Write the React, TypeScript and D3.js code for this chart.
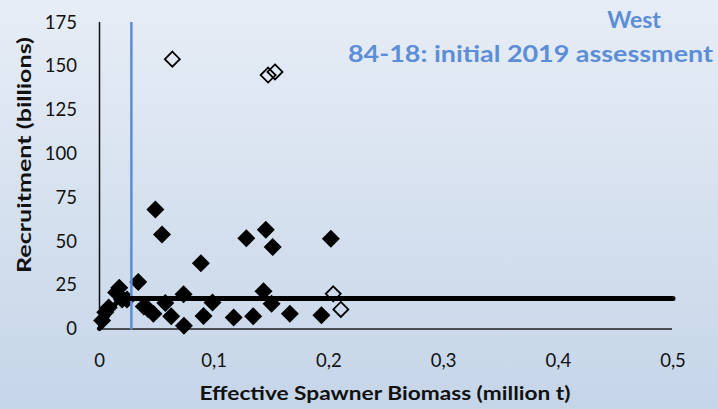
import React from 'react';
import * as d3 from 'd3';

// spawner biomass (million t) and recruitment (billions)
const ssbFilled = [
  0.0487, 0.0545, 0.128, 0.145, 0.151, 0.2017, 0.0884, 0.0338, 0.0172, 0.143,
  0.0733, 0.0574, 0.0985, 0.150, 0.0386, 0.047, 0.0625, 0.0907, 0.117, 0.134,
  0.166, 0.1935, 0.0736, 0.0197, 0.024, 0.008, 0.005, 0.0023, 0.0145, 0.0425,
];
const recFilled = [
  67.9, 53.7, 51.6, 56.4, 46.5, 51.3, 37.2, 26.6, 23.2, 21.2,
  19.5, 14.5, 14.8, 14.1, 12.6, 8.4, 7.0, 7.2, 6.3, 7.0,
  8.4, 7.5, 1.5, 16.5, 16.5, 12, 9.3, 4.6, 20.5, 11,
];
const ssbOpen = [0.0635, 0.147, 0.153, 0.2038, 0.2104];
const recOpen = [153.8, 144.7, 146.5, 19.8, 10.9];

// hockey-stick stock-recruit relationship
const hsSsb = [0, 0.017, 0.5];
const hsRec = [0, 17.2, 17.2];
const blueLineSsb = 0.0278;

const xTicks = [0, 0.1, 0.2, 0.3, 0.4, 0.5];
const xTickLabels = ['0', '0,1', '0,2', '0,3', '0,4', '0,5'];
const yTicks = [0, 25, 50, 75, 100, 125, 150, 175];

const titleLine1 = 'West';
const titleLine2 = '84-18: initial 2019 assessment';
const xTitle = 'Effective Spawner Biomass (million t)';
const yTitle = 'Recruitment (billions)';

const W = 718;
const H = 409;
const FONT = 'Lato, "Open Sans", sans-serif';
const BLUE = '#5b8ed6';

function diamond(cx: number, cy: number, r: number) {
  return `M${cx},${cy - r}L${cx + r},${cy}L${cx},${cy + r}L${cx - r},${cy}Z`;
}

export default function App() {
  const x = d3.scaleLinear().domain([0, 0.5]).range([99.5, 673]);
  const y = d3.scaleLinear().domain([0, 175]).range([328.5, 22]);

  const hsLine = d3.line<number>()
    .x((d) => x(hsSsb[d]))
    .y((d) => y(hsRec[d]));

  return (
    <svg width={W} height={H} style={{ position: 'fixed', left: 0, top: 0 }} fontFamily={FONT}>
      <defs>
        <linearGradient id="bg" x1="0" y1="0" x2="0" y2="1">
          <stop offset="0%" stopColor="#e7edf6" />
          <stop offset="100%" stopColor="#c5d5e8" />
        </linearGradient>
      </defs>
      <rect x={0} y={0} width={W} height={H} fill="url(#bg)" />

      {/* axes */}
      <line x1={x(0)} x2={x(0)} y1={y(175)} y2={y(0) + 1} stroke="#111" strokeWidth={1.5} />
      <line x1={x(0)} x2={672} y1={y(0) + 0.5} y2={y(0) + 0.5} stroke="#222" strokeWidth={1.5} />

      {yTicks.map((t) => (
        <text key={t} x={77} y={y(t)} dy="0.36em" textAnchor="end" fontSize={18.5} fill="#111">
          {t}
        </text>
      ))}
      {xTicks.map((t, i) => (
        <text key={t} x={x(t)} y={367} textAnchor="middle" fontSize={18.5} fill="#111">
          {xTickLabels[i]}
        </text>
      ))}

      {/* points */}
      {ssbFilled.map((s, i) => (
        <path key={'f' + i} d={diamond(x(s), y(recFilled[i]), 9)} fill="#000" />
      ))}
      {ssbOpen.map((s, i) => (
        <path key={'o' + i} d={diamond(x(s), y(recOpen[i]), 7.5)} fill="none" stroke="#000" strokeWidth={1.8} />
      ))}

      <line x1={x(blueLineSsb)} x2={x(blueLineSsb)} y1={y(175)} y2={y(0) + 1} stroke={BLUE} strokeWidth={2.5} />
      <path d={hsLine([0, 1, 2]) ?? ''} fill="none" stroke="#000" strokeWidth={5} strokeLinecap="round" />

      {/* titles */}
      <text x={634} y={28} textAnchor="middle" fontSize={23} fontWeight="bold" fill={BLUE}>
        {titleLine1}
      </text>
      <text x={713} y={62} textAnchor="end" fontSize={23} fontWeight="bold" fill={BLUE}
        textLength={365} lengthAdjust="spacingAndGlyphs">
        {titleLine2}
      </text>
      <text x={385} y={400} textAnchor="middle" fontSize={18.5} fontWeight="bold" fill="#111"
        textLength={371} lengthAdjust="spacingAndGlyphs">
        {xTitle}
      </text>
      <text transform="translate(31,155) rotate(-90)" textAnchor="middle" fontSize={18.5} fontWeight="bold" fill="#111"
        textLength={236} lengthAdjust="spacingAndGlyphs">
        {yTitle}
      </text>
    </svg>
  );
}
